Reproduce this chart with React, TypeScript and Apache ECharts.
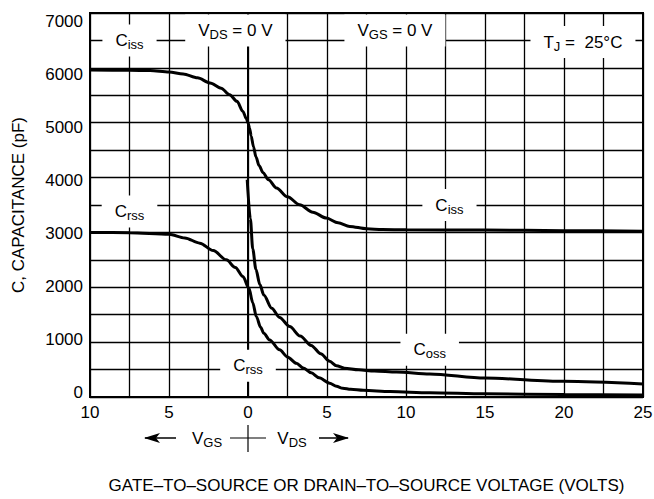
import React, { useEffect, useRef } from "react";
import * as echarts from "echarts";

// Voltage axis: negative = V_GS side, positive = V_DS side
const cissData: [number, number][] = [
  [-10, 5960], [-7.5, 5958], [-6.2, 5950], [-5, 5925], [-4.1, 5890], [-3.2, 5820],
  [-2.4, 5725], [-1.7, 5630], [-1.16, 5510], [-0.7, 5390], [-0.32, 5206], [-0.1, 5070],
  [0, 5000], [0.1, 4900], [0.2, 4760], [0.35, 4560], [0.5, 4380], [0.7, 4220],
  [0.95, 4090], [1.3, 3960], [1.8, 3810], [2.5, 3650], [3.27, 3504], [4.1, 3370],
  [4.96, 3261], [5.7, 3175], [6.44, 3110], [7.5, 3068], [8.5, 3052], [10, 3048],
  [15, 3045], [20, 3032], [25, 3020],
];
const cossData: [number, number][] = [
  [-0.05, 3960], [0.15, 3250], [0.3, 2700], [0.5, 2330], [0.75, 2050], [1.0, 1860],
  [1.5, 1620], [2.0, 1450], [2.64, 1283], [3.3, 1110], [4.0, 940], [4.6, 790],
  [5.17, 650], [5.6, 570], [6.1, 525], [7, 495], [8, 475], [9.4, 455],
  [11.5, 420], [15, 345], [20, 285], [25, 235],
];
const crssData: [number, number][] = [
  [-10, 3000], [-7.5, 2995], [-5, 2968], [-4, 2900], [-3.05, 2805], [-2.2, 2670],
  [-1.37, 2500], [-0.8, 2360], [-0.32, 2195], [0.06, 1984], [0.3, 1720], [0.53, 1465],
  [0.8, 1270], [1.0, 1160], [1.37, 1040], [2.0, 860], [2.5, 730], [3.06, 615],
  [3.5, 530], [4.0, 440], [4.5, 350], [5.17, 250], [5.6, 195], [6.0, 160],
  [6.5, 140], [7.3, 122], [9, 98], [11.5, 78], [15, 58], [20, 45], [25, 36],
];

const yTickLabels = [0, 1000, 2000, 3000, 4000, 5000, 6000, 7000];
const xTickValues = [-10, -5, 0, 5, 10, 15, 20, 25];

const annotations = [
  { text: "{m|C}{s|iss}", at: [-7.5, 6500] },
  { text: "{m|V}{s|DS}{m| = 0 V}", at: [-0.8, 6680] },
  { text: "{m|V}{s|GS}{m| = 0 V}", at: [9.3, 6680] },
  { text: "{m|T}{s|J}{m| =  25°C}", at: [21.2, 6470] },
  { text: "{m|C}{s|rss}", at: [-7.5, 3380] },
  { text: "{m|C}{s|iss}", at: [12.75, 3500] },
  { text: "{m|C}{s|oss}", at: [11.5, 860] },
  { text: "{m|C}{s|rss}", at: [0, 570] },
];

const FONT = "'Liberation Sans', Arial, Helvetica, sans-serif";

const rich = {
  m: { fontSize: 17, fontFamily: FONT, color: "#000", lineHeight: 20 },
  s: { fontSize: 13, fontFamily: FONT, color: "#000", lineHeight: 13, padding: [8, 0, 0, 0] },
};

export default function App() {
  const ref = useRef<HTMLDivElement>(null);
  useEffect(() => {
    if (!ref.current) return;
    const chart = echarts.init(ref.current, null, { renderer: "svg" });
    const lineStyle = { color: "#000", width: 3 };
    const curve = { type: "line", showSymbol: false, smooth: 0.3, smoothMonotone: "x", lineStyle, z: 3 };
    chart.setOption({
      animation: false,
      backgroundColor: "#fff",
      grid: {
        left: 90, right: 11, top: 13, bottom: 102,
        outerBoundsMode: "none", containLabel: false,
        show: true, borderColor: "#000", borderWidth: 2,
      },
      xAxis: {
        type: "value",
        min: -10,
        max: 25,
        interval: 2.5,
        name: "GATE–TO–SOURCE OR DRAIN–TO–SOURCE VOLTAGE (VOLTS)",
        nameLocation: "middle",
        nameGap: 80,
        nameTextStyle: { fontFamily: FONT, fontSize: 17, color: "#000" },
        axisLine: { show: true, lineStyle: { color: "#000", width: 2 } },
        axisTick: { show: false },
        axisLabel: {
          fontFamily: FONT,
          fontSize: 17,
          color: "#000",
          margin: 7,
          formatter: (v: number) => (xTickValues.includes(v) ? String(Math.abs(v)) : ""),
        },
        splitLine: { show: true, lineStyle: { color: "#000", width: 1.3 } },
      },
      yAxis: [
        {
          type: "value",
          min: 0,
          max: 7000,
          interval: 500,
          name: "C, CAPACITANCE (pF)",
          nameLocation: "middle",
          nameGap: 63,
          nameTextStyle: { fontFamily: FONT, fontSize: 17, color: "#000" },
          axisLine: { show: true, lineStyle: { color: "#000", width: 2 } },
          axisTick: { show: false },
          axisLabel: { show: false },
          splitLine: { show: true, lineStyle: { color: "#000", width: 1.3 } },
        },
        {
          type: "value",
          min: -81,
          max: 7164,
          position: "left",
          axisLine: { show: false },
          axisTick: { show: false },
          splitLine: { show: false },
          axisLabel: {
            show: true,
            customValues: yTickLabels,
            fontFamily: FONT,
            fontSize: 17,
            color: "#000",
            margin: 7,
            formatter: (v: number) => String(v),
          },
        },
      ],
      series: [
        {
          ...curve,
          data: cissData,
          markPoint: {
            symbol: "rect",
            symbolSize: [1, 1],
            itemStyle: { color: "rgba(0,0,0,0)" },
            silent: true,
            label: {
              show: true,
              position: "inside",
              backgroundColor: "#fff",
              padding: [6, 13, 6, 13],
              formatter: (p: any) => p.name,
              rich,
            },
            data: annotations.map((a) => ({ name: a.text, coord: a.at })),
          },
        },
        { ...curve, data: cossData },
        { ...curve, data: crssData },
      ],
    });

    const x0 = chart.convertToPixel({ xAxisIndex: 0 }, 0) as number;
    const y0 = 438;
    const textStyle = (t: string, x: number) => ({
      type: "text",
      x,
      y: y0,
      style: { text: t, rich, align: "center", verticalAlign: "middle" },
    });
    chart.setOption({
      graphic: [
        { type: "line", shape: { x1: x0, y1: y0 - 13, x2: x0, y2: y0 + 14 }, style: { stroke: "#000", lineWidth: 1.2 } },
        { type: "line", shape: { x1: x0 - 18, y1: y0, x2: x0 + 18, y2: y0 }, style: { stroke: "#000", lineWidth: 1.2 } },
        textStyle("{m|V}{s|GS}", x0 - 41),
        textStyle("{m|V}{s|DS}", x0 + 44),
        { type: "line", shape: { x1: x0 - 103, y1: y0, x2: x0 - 72, y2: y0 }, style: { stroke: "#000", lineWidth: 1.5 } },
        { type: "polygon", shape: { points: [[x0 - 88, y0 - 5], [x0 - 104, y0], [x0 - 88, y0 + 5], [x0 - 92, y0]] }, style: { fill: "#000" } },
        { type: "line", shape: { x1: x0 + 71, y1: y0, x2: x0 + 100, y2: y0 }, style: { stroke: "#000", lineWidth: 1.5 } },
        { type: "polygon", shape: { points: [[x0 + 85, y0 - 5], [x0 + 101, y0], [x0 + 85, y0 + 5], [x0 + 89, y0]] }, style: { fill: "#000" } },
      ],
    });
    return () => chart.dispose();
  }, []);
  return <div ref={ref} style={{ position: "fixed", left: 0, top: 0, width: 654, height: 499 }} />;
}
